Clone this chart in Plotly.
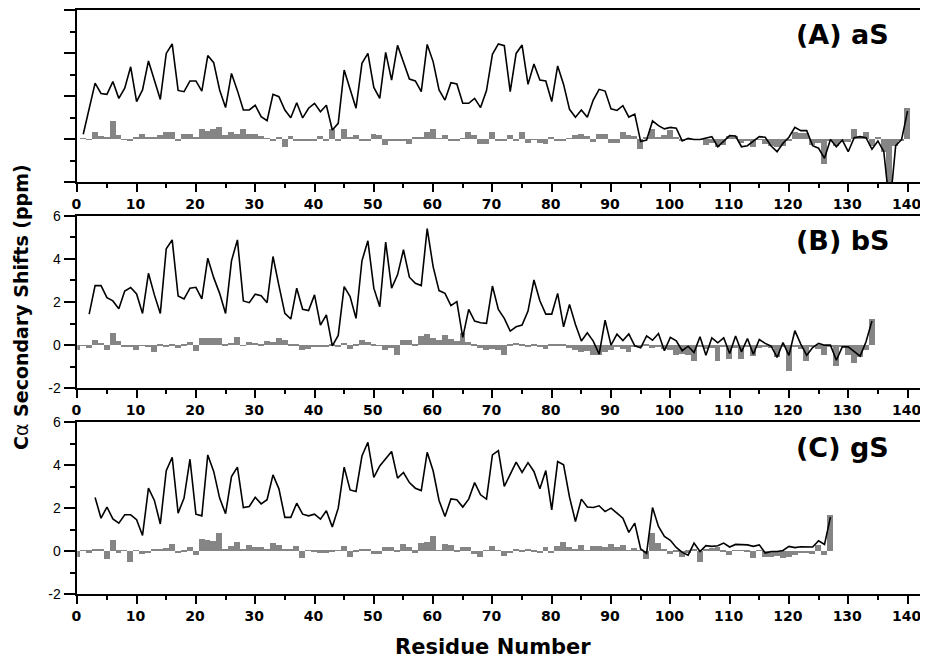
import plotly.graph_objects as go

# residue numbers
a_res = list(range(1, 141))
b_line_res = list(range(2, 135))
b_bar_res = list(range(0, 135))
c_line_res = list(range(3, 128))
c_bar_res = list(range(0, 128))

# y tick labels (plain hyphen, as in the original)
y_tick_vals = [-2, 0, 2, 4, 6]
y_tick_text = ["-2", "0", "2", "4", "6"]

# (A) aS
a_line = [
    0.22, 1.4, 2.6, 2.12, 2.08, 2.67, 1.89, 2.36, 3.36, 1.74,
    2.28, 3.63, 2.74, 1.84, 3.98, 4.42, 2.26, 2.2, 2.7, 2.7,
    2.23, 3.88, 3.55, 2.28, 1.46, 3.05, 2.25, 1.35, 1.35, 1.57,
    1.04, 0.85, 2.08, 1.97, 1.35, 0.99, 1.69, 0.98, 1.43, 1.66,
    1.27, 1.57, 0.42, 0.73, 3.21, 2.36, 1.43, 3.52, 3.98, 2.4,
    1.89, 4.03, 2.74, 4.36, 3.6, 2.79, 2.7, 2.2, 4.4, 3.6,
    2.28, 1.81, 2.62, 2.56, 1.66, 1.66, 1.89, 1.46, 2.25, 3.94,
    4.42, 4.34, 2.2, 3.98, 4.37, 2.54, 3.49, 2.74, 2.7, 1.74,
    3.4, 2.54, 1.38, 1.01, 1.35, 1.01, 1.81, 2.31, 2.23, 1.4,
    1.33, 1.55, 1.02, 1.16, -0.12, -0.05, 0.84, 0.62, 0.47, 0.54,
    0.5, -0.09, 0.03, -0.02, -0.02, 0.06, 0.11, -0.36, -0.09, 0.16,
    0.14, -0.36, -0.31, -0.08, 0.11, 0.08, -0.33, -0.59, -0.2, 0.08,
    0.54, 0.39, 0.39, -0.31, -0.43, -0.9, -0.02, -0.36, -0.05, -0.59,
    0.06, 0.11, 0.06, -0.48, -0.09, -0.59, -3.2, -0.31, -0.02, 1.3,
]
a_bar = [
    0.02, -0.02, 0.34, 0.14, 0.08, 0.85, 0.19, -0.03, -0.1, 0.09,
    0.22, 0.06, 0.06, 0.17, 0.34, 0.34, -0.05, 0.23, 0.23, 0.05,
    0.47, 0.39, 0.47, 0.57, 0.19, 0.34, 0.22, 0.45, 0.22, 0.22,
    0.14, 0.03, -0.08, 0.08, -0.36, 0.16, -0.08, -0.05, -0.08, -0.05,
    0.16, -0.1, 0.45, -0.05, 0.45, 0.05, 0.17, -0.05, -0.05, 0.25,
    0.19, -0.28, -0.05, -0.05, -0.05, -0.23, 0.05, 0.06, 0.34, 0.45,
    0.02, 0.17, -0.05, -0.05, 0.02, 0.33, 0.17, -0.25, -0.23, 0.33,
    -0.05, -0.05, 0.17, -0.05, 0.34, -0.2, -0.02, -0.17, -0.25, 0.05,
    -0.05, -0.05, 0.03, 0.17, 0.22, 0.16, -0.12, 0.25, 0.22, -0.2,
    -0.2, 0.33, 0.17, 0.12, -0.48, 0.11, 0.45, 0.11, 0.19, 0.42,
    0.11, -0.05, -0.02, -0.02, -0.02, -0.28, -0.2, -0.36, -0.28, 0.16,
    0.16, -0.17, -0.05, -0.39, -0.02, -0.23, -0.31, -0.36, -0.31, -0.05,
    0.34, 0.26, 0.26, -0.28, -0.17, -1.16, -0.05, -0.31, -0.12, -0.12,
    0.45, 0.11, 0.31, -0.31, 0.11, -0.59, -3.0, -0.31, -0.05, 1.43,
]

# (B) bS
b_line = [
    1.44, 2.76, 2.76, 2.2, 2.05, 1.69, 2.51, 2.67, 2.37, 1.47,
    3.33, 2.33, 1.47, 4.47, 4.88, 2.28, 2.14, 2.64, 2.68, 2.14,
    4.03, 3.13, 2.4, 1.47, 3.91, 4.88, 2.05, 1.97, 2.36, 2.29,
    1.97, 4.11, 2.76, 1.47, 1.21, 2.64, 1.66, 1.6, 2.33, 0.93,
    1.4, -0.03, 0.45, 2.71, 2.25, 1.24, 3.91, 4.84, 2.64, 1.78,
    4.78, 2.64, 3.26, 4.42, 3.15, 2.87, 2.76, 5.4, 3.64, 2.53,
    2.4, 1.83, 2.02, 0.36, 1.66, 1.12, 1.04, 1.01, 2.74, 1.66,
    1.24, 0.65, 0.85, 0.93, 1.58, 3.02, 2.06, 1.44, 1.44, 2.4,
    0.85, 1.89, 0.96, 0.19, 0.57, 0.19, -0.42, 1.16, 0.0, 0.51,
    0.21, 0.52, -0.03, -0.12, 0.43, 0.23, 0.54, -0.26, 0.36, 0.2,
    -0.26, -0.05, -0.34, 0.39, -0.47, 0.34, 0.11, 0.34, -0.39, 0.42,
    -0.31, 0.31, -0.42, 0.26, 0.08, -0.05, -0.57, 0.12, -0.47, 0.67,
    0.05, -0.47, -0.11, 0.08, 0.0, 0.0, -0.7, -0.08, -0.08, -0.31,
    -0.51, 0.16, 1.12,
]
b_bar = [
    -0.2, 0.02, -0.1, 0.25, 0.12, -0.2, 0.6, 0.22, -0.05, -0.08,
    -0.2, 0.02, -0.03, -0.3, 0.05, -0.05, 0.05, -0.1, 0.05, 0.15,
    -0.25, 0.35, 0.35, 0.35, 0.35, 0.05, 0.12, 0.38, 0.02, 0.18,
    0.12, 0.03, 0.2, 0.15, 0.33, 0.25, 0.04, 0.05, -0.2, -0.15,
    -0.08, -0.03, -0.05, 0.05, -0.08, 0.12, -0.18, 0.08, 0.23, 0.17,
    0.05, -0.02, -0.23, -0.12, -0.46, 0.26, 0.23, 0.03, 0.42, 0.54,
    0.36, 0.23, 0.5, 0.31, 0.2, 0.57, 0.15, 0.05, -0.12, -0.23,
    -0.15, -0.2, -0.42, 0.08, 0.12, 0.05, -0.08, 0.06, -0.03, -0.15,
    0.03, 0.08, 0.08, -0.12, -0.2, -0.31, -0.26, -0.46, -0.42, -0.31,
    -0.23, -0.03, -0.15, -0.3, -0.03, -0.03, 0.08, -0.12, -0.03, -0.15,
    -0.2, -0.42, -0.39, -0.42, -0.7, -0.08, -0.15, -0.12, -0.74, -0.08,
    -0.62, -0.12, -0.62, -0.08, -0.51, -0.12, -0.03, -0.12, -0.54, -0.08,
    -1.19, -0.03, -0.15, -0.7, -0.08, -0.15, -0.42, -0.03, -0.93, -0.08,
    -0.46, -0.82, -0.54, -0.23, 1.21,
]

# (C) gS
c_line = [
    2.5, 1.53, 2.05, 1.5, 1.3, 1.69, 1.69, 1.46, 0.73, 2.93,
    2.36, 1.26, 3.75, 4.37, 1.77, 2.47, 4.28, 1.72, 1.64, 4.48,
    3.71, 2.47, 1.74, 3.47, 3.91, 2.03, 2.08, 2.51, 2.2, 2.39,
    3.55, 2.9, 1.57, 1.57, 2.23, 1.72, 1.64, 1.72, 1.49, 1.88,
    1.12, 2.0, 3.91, 2.85, 2.78, 4.43, 5.07, 3.43, 3.97, 4.33,
    4.64, 3.4, 3.66, 3.19, 2.93, 2.82, 4.6, 3.74, 2.36, 1.61,
    2.43, 2.39, 2.05, 2.42, 3.19, 2.62, 2.42, 4.48, 4.68, 3.01,
    3.6, 4.14, 3.66, 4.12, 3.71, 2.9, 3.75, 1.92, 4.17, 4.02,
    2.51, 1.38, 2.42, 2.05, 2.03, 2.11, 1.84, 2.0, 1.77, 1.53,
    0.87, 1.3, 0.1, -0.1, 2.03, 1.15, 0.68, 0.5, 0.17, -0.06,
    -0.19, 0.37, -0.02, 0.25, 0.22, 0.25, 0.37, 0.19, 0.31, 0.31,
    0.29, 0.22, 0.29, -0.09, -0.02, -0.02, 0.03, 0.22, 0.16, 0.2,
    0.2, 0.19, 0.48, 0.31, 1.58,
]
c_bar = [
    -0.28, 0.02, -0.09, 0.09, 0.06, -0.36, 0.51, -0.09, 0.03, -0.51,
    0.02, -0.17, -0.12, 0.06, 0.06, 0.11, 0.33, -0.12, -0.03, 0.17,
    -0.2, 0.57, 0.48, 0.45, 0.84, 0.06, 0.22, 0.4, 0.06, 0.25,
    0.19, 0.19, 0.09, 0.34, 0.28, 0.09, 0.06, 0.22, -0.33, 0.02,
    -0.03, -0.09, -0.09, -0.03, 0.02, 0.22, -0.29, -0.03, 0.06, 0.09,
    -0.17, -0.14, 0.16, 0.19, -0.06, 0.31, 0.16, -0.09, 0.37, 0.4,
    0.68, 0.03, 0.31, 0.29, -0.05, 0.16, 0.19, -0.14, -0.29, 0.02,
    0.22, 0.02, -0.25, -0.12, 0.09, -0.06, 0.09, -0.06, -0.12, 0.17,
    -0.12, 0.22, 0.42, 0.17, 0.09, 0.25, 0.03, 0.22, 0.22, 0.17,
    0.31, 0.17, 0.25, 0.03, 0.14, 0.02, -0.4, 0.81, 0.37, 0.06,
    -0.17, -0.06, -0.28, -0.09, 0.06, -0.5, 0.06, 0.14, 0.19, -0.06,
    -0.2, 0.02, 0.02, -0.03, -0.33, 0.02, -0.31, -0.31, -0.25, -0.33,
    -0.29, -0.2, -0.12, -0.12, -0.17, 0.29, -0.2, 1.66,
]

panels = [
    ("(A) aS", a_res, a_line, a_res, a_bar),
    ("(B) bS", b_line_res, b_line, b_bar_res, b_bar),
    ("(C) gS", c_line_res, c_line, c_bar_res, c_bar),
]

# the page body keeps its default 8px margin, so the figure is drawn 8px
# smaller on each side and every target pixel position is shifted by 8
PAD = 8
W, H = 928 - 2 * PAD, 668 - 2 * PAD


def px_x(x):
    return (x - PAD) / W


def px_y(y):
    return 1 - (y - PAD) / H


X_LEFT, X_RIGHT = 77.3, 920
# (top, bottom) of each panel frame in page pixels
FRAMES = [(10, 182), (215.7, 388.3), (422.3, 594)]
BAR_COLOR = "#858585"
TICK_FONT = "Liberation Sans, Arial, sans-serif"
BOLD_FONT = "DejaVu Sans, sans-serif"

fig = go.Figure()
for i, (label, lres, lval, bres, bval) in enumerate(panels):
    n = "" if i == 0 else str(i + 1)
    fig.add_trace(go.Bar(x=bres, y=bval, width=1.0, marker=dict(color=BAR_COLOR, line=dict(width=0)),
                         xaxis="x" + n, yaxis="y" + n, showlegend=False))
    fig.add_trace(go.Scatter(x=lres, y=lval, mode="lines", line=dict(color="black", width=1.6),
                             xaxis="x" + n, yaxis="y" + n, showlegend=False))
    top, bottom = FRAMES[i]
    fig.update_layout({
        "xaxis" + n: dict(
            domain=[px_x(X_LEFT), px_x(X_RIGHT)], range=[0, 142.1], anchor="y" + n,
            showline=True, linecolor="black", linewidth=1.5, mirror=True,
            ticks="outside", ticklen=8, tickwidth=1.5, tickcolor="black", dtick=10, tick0=0,
            minor=dict(ticks="outside", ticklen=4, dtick=5, tickwidth=1.5, tickcolor="black", showgrid=False),
            tickfont=dict(family=BOLD_FONT, size=14, color="black", weight="bold"),
            ticklabeloverflow="allow", ticklabelshift=-1,
            showgrid=False, zeroline=False, automargin=False,
        ),
        "yaxis" + n: dict(
            domain=[px_y(bottom), px_y(top)], range=[-2, 6], anchor="x" + n,
            showline=True, linecolor="black", linewidth=1.5, mirror=True,
            ticks="outside", ticklen=12, tickwidth=1.5, tickcolor="black",
            tickmode="array", tickvals=y_tick_vals, ticktext=y_tick_text,
            minor=dict(ticks="outside", ticklen=6, dtick=1, tick0=0, tickwidth=1.5, tickcolor="black", showgrid=False),
            tickfont=dict(family=TICK_FONT, size=14, color="black"),
            showticklabels=(i != 0),
            showgrid=False, zeroline=False, automargin=False,
        ),
    })
    fig.add_annotation(
        text=label, xref="paper", yref="paper", x=px_x(891), y=px_y(top + 25),
        xanchor="right", yanchor="middle", showarrow=False,
        font=dict(family=BOLD_FONT, size=27, color="black", weight="bold"),
    )

fig.add_annotation(
    text="Residue Number", xref="paper", yref="paper", x=px_x(493), y=px_y(647),
    xanchor="center", yanchor="middle", showarrow=False,
    font=dict(family=BOLD_FONT, size=21, color="black", weight="bold"),
)
fig.add_annotation(
    text="C<span style='font-weight:normal'>α</span> Secondary Shifts (ppm)",
    xref="paper", yref="paper", x=px_x(21), y=px_y(307), textangle=-90,
    xanchor="center", yanchor="middle", showarrow=False,
    font=dict(family=BOLD_FONT, size=19, color="black", weight="bold"),
)

fig.update_layout(
    width=W, height=H, margin=dict(l=0, r=0, t=0, b=0, autoexpand=False),
    paper_bgcolor="white", plot_bgcolor="white",
    bargap=0, showlegend=False,
)
fig.write_html("out.html")
